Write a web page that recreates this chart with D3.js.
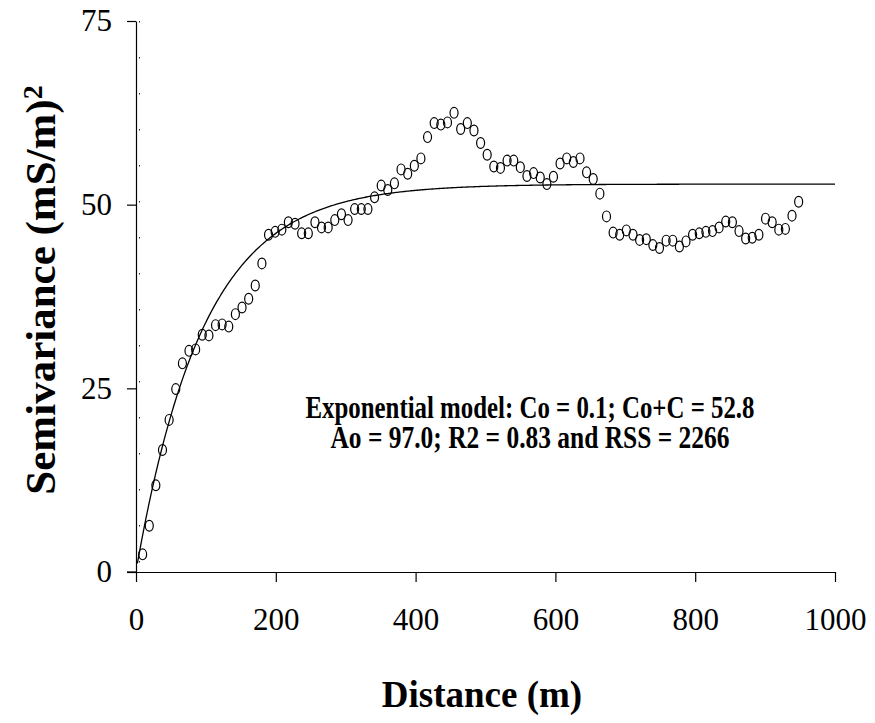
<!DOCTYPE html>
<html>
<head>
<meta charset="utf-8">
<script src="https://cdn.jsdelivr.net/npm/d3@7"></script>
<style>
  html, body { margin: 0; padding: 0; background: #fff; }
  svg { display: block; font-family: "Liberation Serif", "Times New Roman", serif; }
</style>
</head>
<body>
<svg id="chart" width="875" height="723"></svg>
<script>
// Lag distances (m) of the experimental semivariogram
const distances = [
  9.5, 19.0, 28.4, 37.9, 47.4, 56.9, 66.4, 75.8, 85.3, 94.8,
  104.3, 113.8, 123.2, 132.7, 142.2, 151.7, 161.2, 170.6, 180.1, 189.6,
  199.1, 208.6, 218.0, 227.5, 237.0, 246.5, 256.0, 265.4, 274.9, 284.4,
  293.9, 303.4, 312.8, 322.3, 331.8, 341.3, 350.8, 360.2, 369.7, 379.2,
  388.7, 398.2, 407.6, 417.1, 426.6, 436.1, 445.6, 455.0, 464.5, 474.0,
  483.5, 493.0, 502.4, 511.9, 521.4, 530.9, 540.4, 549.8, 559.3, 568.8,
  578.3, 587.8, 597.2, 606.7, 616.2, 625.7, 635.2, 644.6, 654.1, 663.6,
  673.1, 682.6, 692.0, 701.5, 711.0, 720.5, 730.0, 739.4, 748.9, 758.4,
  767.9, 777.4, 786.8, 796.3, 805.8, 815.3, 824.8, 834.2, 843.7, 853.2,
  862.7, 872.2, 881.6, 891.1, 900.6, 910.1, 919.6, 929.0, 938.5, 948.0
];

// Experimental semivariance, (mS/m)^2
const semivariance = [
  2.4, 6.3, 11.8, 16.6, 20.7, 24.9, 28.4, 30.1, 30.3, 32.3,
  32.2, 33.6, 33.7, 33.4, 35.1, 36.0, 37.2, 39.0, 42.0, 45.9,
  46.3, 46.6, 47.6, 47.4, 46.1, 46.1, 47.6, 46.9, 46.9, 47.9,
  48.7, 47.9, 49.4, 49.4, 49.4, 51.0, 52.6, 52.0, 52.9, 54.8,
  54.2, 55.3, 56.3, 59.2, 61.1, 60.9, 61.2, 62.5, 60.3, 61.1,
  60.1, 58.4, 56.8, 55.2, 55.0, 56.0, 56.0, 55.1, 53.9, 54.3,
  53.7, 52.8, 53.8, 55.6, 56.3, 55.8, 56.3, 54.4, 53.5, 51.5,
  48.4, 46.2, 45.9, 46.5, 45.9, 45.2, 45.3, 44.5, 44.1, 45.1,
  45.1, 44.3, 45.0, 45.9, 46.1, 46.3, 46.4, 46.9, 47.7, 47.6,
  46.4, 45.4, 45.5, 45.9, 48.1, 47.6, 46.6, 46.7, 48.5, 50.4
];

// Fitted exponential model parameters
const nugget = 0.1;      // Co
const sill = 52.8;       // Co + C
const rangeParam = 97.0; // Ao

const xTicks = [0, 200, 400, 600, 800, 1000];
const yTicks = [0, 25, 50, 75];

const modelLines = [
  "Exponential model: Co = 0.1; Co+C = 52.8",
  "Ao = 97.0; R2 = 0.83 and RSS = 2266"
];

const svg = d3.select("#chart");
svg.append("rect").attr("width", 875).attr("height", 723).attr("fill", "#fff");

const x = d3.scaleLinear().domain([0, 1000]).range([136, 835]);
const y = d3.scaleLinear().domain([0, 75]).range([572, 21]);

// faint dotted guide beside the value axis
svg.append("line")
  .attr("x1", 139.5).attr("x2", 139.5)
  .attr("y1", y(75)).attr("y2", y(0))
  .attr("stroke", "#222").attr("stroke-width", 1)
  .attr("stroke-dasharray", "1.5,34.5");

// axes
const xAxis = d3.axisBottom(x).tickValues(xTicks).tickSize(10).tickSizeOuter(0).tickPadding(26)
  .tickFormat(d3.format("d"));
const yAxis = d3.axisLeft(y).tickValues(yTicks).tickSize(9).tickSizeOuter(0).tickPadding(15)
  .tickFormat(d3.format("d"));

const gx = svg.append("g").attr("transform", `translate(0,${y(0)})`).call(xAxis);
const gy = svg.append("g").attr("transform", `translate(${x(0)},0)`).call(yAxis);

[gx, gy].forEach(g => {
  g.selectAll("path.domain").attr("stroke", "#000").attr("stroke-width", 1.2);
  g.selectAll(".tick line").attr("stroke", "#000").attr("stroke-width", 1.2);
  g.selectAll(".tick text")
    .attr("fill", "#000")
    .style("font-family", "'Liberation Serif', 'Times New Roman', serif")
    .style("font-size", "31px");
});
// extend the distance axis to the left end of the 0 tick
gx.append("line").attr("x1", x(0) - 9).attr("x2", x(0)).attr("y1", 0).attr("y2", 0)
  .attr("stroke", "#000").attr("stroke-width", 1.2);

// fitted exponential model curve
const model = h => nugget + (sill - nugget) * (1 - Math.exp(-h / rangeParam));
const hs = d3.range(2, 1000.5, 2);
svg.append("path")
  .datum(hs)
  .attr("fill", "none")
  .attr("stroke", "#000")
  .attr("stroke-width", 1.3)
  .attr("d", d3.line().x(h => x(h)).y(h => y(model(h))));

// experimental semivariogram points
const pts = distances.map((d, i) => ({ d, v: semivariance[i] }));
svg.append("g").selectAll("ellipse")
  .data(pts)
  .join("ellipse")
  .attr("cx", p => x(p.d))
  .attr("cy", p => y(p.v))
  .attr("rx", 4.0)
  .attr("ry", 5.4)
  .attr("fill", "none")
  .attr("stroke", "#000")
  .attr("stroke-width", 1.2);

// model annotation
const ann = svg.append("g")
  .style("font-family", "'Liberation Serif', 'Times New Roman', serif")
  .style("font-weight", "bold")
  .style("font-size", "31px")
  .attr("fill", "#000");
ann.append("text").attr("x", 530).attr("y", 418).attr("text-anchor", "middle")
  .attr("textLength", 449).attr("lengthAdjust", "spacingAndGlyphs").text(modelLines[0]);
ann.append("text").attr("x", 530).attr("y", 448).attr("text-anchor", "middle")
  .attr("textLength", 399).attr("lengthAdjust", "spacingAndGlyphs").text(modelLines[1]);

// axis titles
svg.append("text")
  .attr("x", 482).attr("y", 707)
  .attr("text-anchor", "middle")
  .style("font-weight", "bold").style("font-size", "37px")
  .text("Distance (m)");

const yt = svg.append("text")
  .attr("transform", "translate(55,290) rotate(-90)")
  .attr("text-anchor", "middle")
  .style("font-weight", "bold").style("font-size", "43px");
yt.append("tspan").text("Semivariance (mS/m)");
yt.append("tspan").attr("dy", "-0.45em").style("font-size", "28px").text("2");
</script>
</body>
</html>
